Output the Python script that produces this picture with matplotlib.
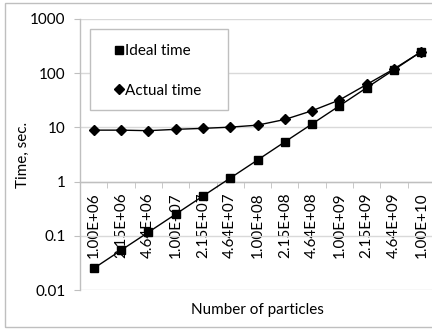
import matplotlib
matplotlib.use("Agg")
import matplotlib.pyplot as plt
from matplotlib.patches import Rectangle
from matplotlib.ticker import FixedLocator, NullLocator
import numpy as np

categories = ["1.00E+06", "2.15E+06", "4.64E+06", "1.00E+07", "2.15E+07", "4.64E+07",
              "1.00E+08", "2.15E+08", "4.64E+08", "1.00E+09", "2.15E+09", "4.64E+09", "1.00E+10"]
ideal_time = [0.025, 0.054, 0.116, 0.25, 0.54, 1.16, 2.5, 5.4, 11.6, 25, 54, 116, 250]
actual_time = [8.9, 8.9, 8.7, 9.2, 9.6, 10.1, 11.0, 14.0, 20.3, 32, 62, 120, 250]
y_ticks = [0.01, 0.1, 1, 10, 100, 1000]
y_ticklabels = ["0.01", "0.1", "1", "10", "100", "1000"]

plt.rcParams['font.family'] = ['Lato', 'DejaVu Sans']
FS = 11

W, H = 432, 331
fig = plt.figure(figsize=(W / 100, H / 100), dpi=100)

# outer chart border
fig.patches.append(Rectangle((5 / W, 1 - 327 / H), (434 - 5) / W, (327 - 3) / H,
                             transform=fig.transFigure, fill=False,
                             edgecolor='#bfbfbf', linewidth=1.0))

left, right, top, bottom = 80, 435, 19, 290
ax = fig.add_axes([left / W, 1 - bottom / H, (right - left) / W, (bottom - top) / H])

for s in ['top', 'right']:
    ax.spines[s].set_visible(False)
ax.spines['bottom'].set_position(('data', 1))
ax.spines['bottom'].set_color('#bfbfbf')
ax.spines['left'].set_color('#bfbfbf')
ax.spines['bottom'].set_linewidth(1.0)
ax.spines['left'].set_linewidth(1.0)

x = np.arange(len(categories))
ax.plot(x, ideal_time, color='black', linewidth=1.0, marker='s', markersize=5.5,
        label='Ideal time', zorder=4)
ax.plot(x, actual_time, color='black', linewidth=1.0, marker='D', markersize=5,
        label='Actual time', zorder=4)

ax.set_yscale('log')
ax.set_ylim(0.01, 1000)
ax.set_xlim(-0.5, len(categories) - 0.5)

ax.yaxis.set_major_locator(FixedLocator(y_ticks))
ax.yaxis.set_minor_locator(NullLocator())
ax.set_yticklabels(y_ticklabels)
ax.tick_params(axis='y', which='major', length=4.3, color='#bfbfbf', labelsize=FS,
               pad=6, labelcolor='black')

ax.set_xticks(x)
ax.set_xticklabels(categories, rotation=90)
ax.xaxis.set_minor_locator(FixedLocator(np.arange(-0.5, len(categories), 1.0)))
ax.tick_params(axis='x', which='major', length=0, labelsize=FS, pad=8)
ax.tick_params(axis='x', which='minor', length=4.3, color='#bfbfbf', direction='out')

ax.grid(axis='y', which='major', color='#d9d9d9', linewidth=1.0, zorder=0)
ax.set_axisbelow(True)

ax.set_ylabel('Time, sec.', fontsize=FS)
ax.yaxis.set_label_coords((30 - left) / (right - left), 0.5)
fig.text((left + right) / 2 / W, 1 - 310 / H, 'Number of particles', fontsize=FS,
         ha='center', va='center')

# legend box
ax.add_patch(Rectangle((90 / W, 1 - 110 / H), (228 - 90) / W, (110 - 29) / H,
                       transform=fig.transFigure, fill=True, facecolor='white',
                       edgecolor='#bfbfbf', linewidth=1.0, zorder=3, clip_on=False))
leg = ax.legend(loc='center left', bbox_to_anchor=(116 / W, 1 - 71 / H),
                bbox_transform=fig.transFigure, frameon=False, fontsize=FS,
                handlelength=0.4, handletextpad=0.2, labelspacing=1.65,
                borderpad=0, borderaxespad=0)
leg.set_zorder(6)

fig.savefig('out.png', dpi=100)
